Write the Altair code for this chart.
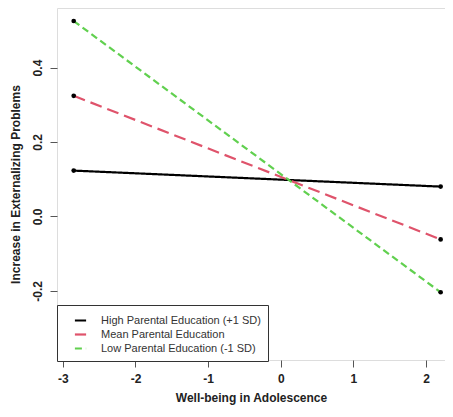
import altair as alt
import pandas as pd

groups = ["High Parental Education (+1 SD)", "Mean Parental Education", "Low Parental Education (-1 SD)"]
x_start = [-2.85, -2.85, -2.85]
x_end = [2.2, 2.2, 2.2]
y_start = [0.123, 0.324, 0.525]
y_end = [0.080, -0.062, -0.204]
colors = ["#000000", "#DF536B", "#61D04F"]
dashes = [[1, 0], [12, 6], [7, 4]]
x_ticks = [-3, -2, -1, 0, 1, 2]
y_ticks = [-0.2, 0.0, 0.2, 0.4]

rows = []
for g, xs, xe, ys, ye in zip(groups, x_start, x_end, y_start, y_end):
    rows.append({"group": g, "x": xs, "y": ys})
    rows.append({"group": g, "x": xe, "y": ye})
df = pd.DataFrame(rows)

font = "Liberation Sans"
xscale = alt.Scale(domain=[-3.08, 2.26], nice=False, zero=False)
yscale = alt.Scale(domain=[-0.386, 0.56], nice=False, zero=False)

xenc = alt.X("x:Q", scale=xscale, title="Well-being in Adolescence",
             axis=alt.Axis(values=x_ticks, format="d", domain=False, grid=False,
                           labelExpr="replace(datum.label, '\u2212', '-')",
                           tickColor="#555", tickSize=7, labelFont=font, labelFontSize=12,
                           labelFontWeight="bold", labelColor="#222", labelPadding=6,
                           titleFont=font, titleFontSize=12, titleFontWeight="bold",
                           titleColor="#222", titlePadding=8))
yenc = alt.Y("y:Q", scale=yscale, title="Increase in Externalizing Problems",
             axis=alt.Axis(values=y_ticks, format=".1f", domain=False, grid=False,
                           labelExpr="replace(datum.label, '\u2212', '-')",
                           tickColor="#555", tickSize=7, labelFont=font, labelFontSize=12,
                           labelFontWeight="bold", labelColor="#222", labelAngle=270,
                           labelPadding=6, titleFont=font, titleFontSize=12,
                           titleFontWeight="bold", titleColor="#222", titlePadding=9))

lines = alt.Chart(df).mark_line(strokeWidth=2.2).encode(
    x=xenc,
    y=yenc,
    color=alt.Color("group:N", sort=groups,
                    scale=alt.Scale(domain=groups, range=colors),
                    legend=alt.Legend(title=None, orient="none", legendX=0, legendY=297,
                                      strokeColor="#333", fillColor="white", padding=7,
                                      symbolType="M-0.8,0L0.8,0", symbolSize=196,
                                      symbolStrokeWidth=2.2, labelFont=font,
                                      labelFontSize=11, labelColor="#333", labelLimit=400,
                                      rowPadding=0, labelOffset=12, symbolOffset=8)),
    strokeDash=alt.StrokeDash("group:N", sort=groups,
                              scale=alt.Scale(domain=groups, range=dashes), legend=None),
    detail="group:N",
)

points = alt.Chart(df).mark_circle(size=22, color="black", opacity=1).encode(
    x=alt.X("x:Q", scale=xscale),
    y=alt.Y("y:Q", scale=yscale),
)

chart = (lines + points).properties(
    width=388, height=352,
    autosize=alt.AutoSizeParams(type="none"),
    padding={"left": 49, "top": 0, "right": 0, "bottom": 45},
).configure_view(stroke="#555", strokeWidth=1.2).configure(background="white")

chart.save("out.html", embed_options={"renderer": "svg", "actions": False})
